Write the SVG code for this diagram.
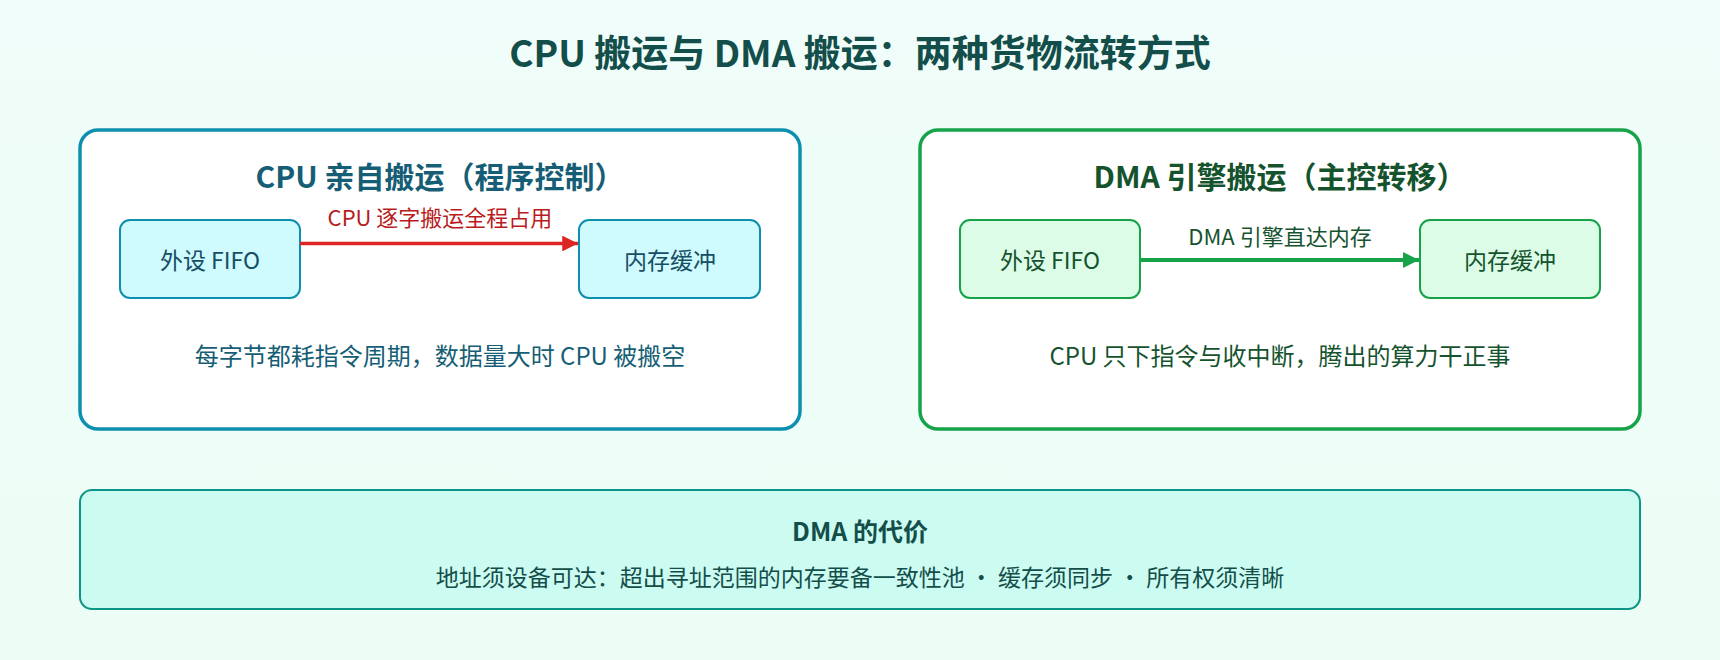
<svg xmlns="http://www.w3.org/2000/svg" width="1720" height="660" viewBox="0 0 1720 660">
<defs>
<linearGradient id="bg" x1="0" y1="0" x2="0" y2="1"><stop offset="0" stop-color="#f0fdfa"/><stop offset="1" stop-color="#ecfdf5"/></linearGradient>
<marker id="ar" viewBox="0 0 10 10" refX="10" refY="5" markerWidth="4.5" markerHeight="4.5" orient="auto"><path d="M0,0L10,5L0,10z" fill="#dc2626"/></marker>
<marker id="ag" viewBox="0 0 10 10" refX="10" refY="5" markerWidth="4" markerHeight="4" orient="auto"><path d="M0,0L10,5L0,10z" fill="#16a34a"/></marker>
<style>
text{font-family:"Noto Sans CJK SC","Noto Sans",sans-serif;text-anchor:middle;dominant-baseline:central}
.t{font-size:37px;font-weight:bold;fill:#134e4a}
.pt{font-size:30px;font-weight:bold}
.n{font-size:23px}
.s{font-size:22px}
.d{font-size:24px}
</style>
</defs>
<rect width="1720" height="660" fill="url(#bg)"/>
<text class="t" x="860" y="51">CPU 搬运与 DMA 搬运：两种货物流转方式</text>
<g id="cpu-panel">
<rect x="80" y="130" width="720" height="299" rx="18" fill="#fff" stroke="#0e8fb0" stroke-width="3.5"/>
<text class="pt" x="440" y="175" fill="#155e75">CPU 亲自搬运（程序控制）</text>
<text class="d" x="440" y="354" fill="#155e75">每字节都耗指令周期，数据量大时 CPU 被搬空</text>
</g>
<g id="cpu-fifo"><rect x="120" y="220" width="180" height="78" rx="10" fill="#cffafe" stroke="#0e8fb0" stroke-width="2"/><text class="n" x="210" y="259" fill="#164e63">外设 FIFO</text></g>
<g id="cpu-buf"><rect x="579" y="220" width="181" height="78" rx="10" fill="#cffafe" stroke="#0e8fb0" stroke-width="2"/><text class="n" x="670" y="259" fill="#164e63">内存缓冲</text></g>
<g id="dma-panel">
<rect x="920" y="130" width="720" height="299" rx="18" fill="#fff" stroke="#16a34a" stroke-width="3.5"/>
<text class="pt" x="1280" y="175" fill="#14532d">DMA 引擎搬运（主控转移）</text>
<text class="d" x="1280" y="354" fill="#14532d">CPU 只下指令与收中断，腾出的算力干正事</text>
</g>
<g id="dma-fifo"><rect x="960" y="220" width="180" height="78" rx="10" fill="#dcfce7" stroke="#16a34a" stroke-width="2"/><text class="n" x="1050" y="259" fill="#14532d">外设 FIFO</text></g>
<g id="dma-buf"><rect x="1420" y="220" width="180" height="78" rx="10" fill="#dcfce7" stroke="#16a34a" stroke-width="2"/><text class="n" x="1510" y="259" fill="#14532d">内存缓冲</text></g>
<g id="cost">
<rect x="80" y="490" width="1560" height="119" rx="12" fill="#ccfbf1" stroke="#0d9488" stroke-width="2"/>
<text x="860" y="530" font-size="25" font-weight="bold" fill="#134e4a">DMA 的代价</text>
<text x="860" y="576" font-size="23" fill="#134e4a">地址须设备可达：超出寻址范围的内存要备一致性池 · 缓存须同步 · 所有权须清晰</text>
</g>
<g id="connectors">
<line x1="300" y1="243.5" x2="578" y2="243.5" stroke="#dc2626" stroke-width="3.5" marker-end="url(#ar)"/>
<text class="s" x="440" y="216" fill="#b91c1c">CPU 逐字搬运全程占用</text>
<line x1="1140" y1="260" x2="1419" y2="260" stroke="#16a34a" stroke-width="4" marker-end="url(#ag)"/>
<text class="s" x="1280" y="235" fill="#14532d">DMA 引擎直达内存</text>
</g>
</svg>
